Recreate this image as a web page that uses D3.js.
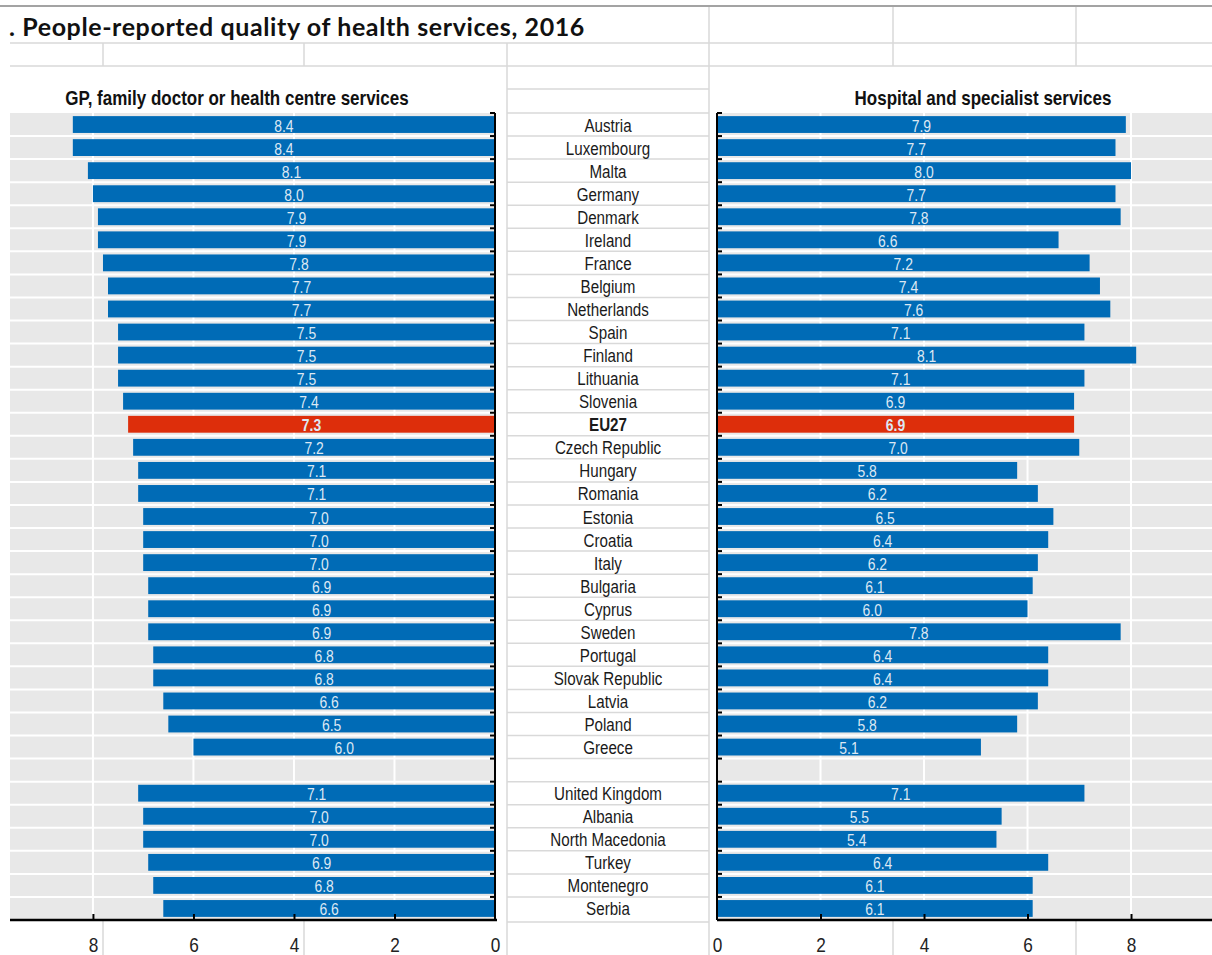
<!DOCTYPE html>
<html>
<head>
<meta charset="utf-8">
<script src="https://cdn.jsdelivr.net/npm/d3@7"></script>
<style>
  body { margin: 0; background: #ffffff; }
  svg { display: block; }
</style>
</head>
<body>
<svg id="chart" width="1212" height="955"></svg>
<script>
// Country rows, top to bottom; the empty entry is the gap before non-EU countries
const countries = [
  "Austria", "Luxembourg", "Malta", "Germany", "Denmark", "Ireland", "France",
  "Belgium", "Netherlands", "Spain", "Finland", "Lithuania", "Slovenia", "EU27",
  "Czech Republic", "Hungary", "Romania", "Estonia", "Croatia", "Italy",
  "Bulgaria", "Cyprus", "Sweden", "Portugal", "Slovak Republic", "Latvia",
  "Poland", "Greece", "",
  "United Kingdom", "Albania", "North Macedonia", "Turkey", "Montenegro", "Serbia"
];

// GP, family doctor or health centre services (score out of 10)
const gpScores = [
  8.4, 8.4, 8.1, 8.0, 7.9, 7.9, 7.8, 7.7, 7.7, 7.5, 7.5, 7.5, 7.4, 7.3,
  7.2, 7.1, 7.1, 7.0, 7.0, 7.0, 6.9, 6.9, 6.9, 6.8, 6.8, 6.6, 6.5, 6.0, null,
  7.1, 7.0, 7.0, 6.9, 6.8, 6.6
];

// Hospital and specialist services (score out of 10)
const hospitalScores = [
  7.9, 7.7, 8.0, 7.7, 7.8, 6.6, 7.2, 7.4, 7.6, 7.1, 8.1, 7.1, 6.9, 6.9,
  7.0, 5.8, 6.2, 6.5, 6.4, 6.2, 6.1, 6.0, 7.8, 6.4, 6.4, 6.2, 5.8, 5.1, null,
  7.1, 5.5, 5.4, 6.4, 6.1, 6.1
];

const axisTicks = [0, 2, 4, 6, 8];
const titleText = ". People-reported quality of health services, 2016";
const gpHeading = "GP, family doctor or health centre services";
const hospitalHeading = "Hospital and specialist services";
const highlightCountry = "EU27";

// ---- styling ----
// Condensed look: Liberation Sans squeezed horizontally
const sans = "'Liberation Sans', Arial, sans-serif";
const squeeze = 0.82;
const barBlue = "#006bb6";
const barRed = "#dd2e0b";
const plotGrey = "#e8e8e8";
const cellLine = "#d9d9d9";
const labelColor = "#dce8f4";

const svg = d3.select("#chart");

const plotTop = 113, plotBottom = 920;
const leftPlot = { x0: 10, x1: 495 };
const rightPlot = { x0: 717, x1: 1212 };
const centreCol = { x0: 507, x1: 709 };

const rows = d3.range(countries.length);
const y = d3.scaleBand().domain(rows).range([plotTop, plotBottom]).paddingInner(0.27).paddingOuter(0.135);
const yEdge = d3.scaleBand().domain(rows).range([plotTop, plotBottom]);

const xLeft = d3.scaleLinear().domain([0, 9.65]).range([leftPlot.x1, leftPlot.x0]);
const xRight = d3.scaleLinear().domain([0, 9.565]).range([rightPlot.x0, rightPlot.x1]);

// narrow text placed at (x, y), squeezed around its anchor
function narrowText(parent, x, y, str, size, weight, fill, sx) {
  return parent.append("g")
    .attr("transform", `translate(${x},${y}) scale(${sx || squeeze},1)`)
    .append("text")
    .attr("text-anchor", "middle")
    .attr("font-family", sans).attr("font-size", size)
    .attr("font-weight", weight).attr("fill", fill)
    .text(str);
}

// ---- spreadsheet cell lines behind the charts ----
const sheet = svg.append("g").attr("stroke", cellLine).attr("stroke-width", 1.5);
[43, 66].forEach(v => sheet.append("line").attr("x1", 10).attr("x2", 1212).attr("y1", v).attr("y2", v));
sheet.append("line").attr("x1", centreCol.x0).attr("x2", centreCol.x1).attr("y1", 89).attr("y2", 89);
rows.concat([countries.length]).forEach(i => {
  const v = i < countries.length ? yEdge(i) : plotBottom + 2;
  sheet.append("line").attr("x1", centreCol.x0).attr("x2", centreCol.x1).attr("y1", v).attr("y2", v);
});
[103, 304].forEach(v => {
  sheet.append("line").attr("x1", v).attr("x2", v).attr("y1", 43).attr("y2", 66);
  sheet.append("line").attr("x1", v).attr("x2", v).attr("y1", plotBottom).attr("y2", 955);
});
[893, 1076].forEach(v => {
  sheet.append("line").attr("x1", v).attr("x2", v).attr("y1", 6).attr("y2", 66);
  sheet.append("line").attr("x1", v).attr("x2", v).attr("y1", plotBottom).attr("y2", 955);
});
sheet.append("line").attr("x1", centreCol.x0).attr("x2", centreCol.x0).attr("y1", 43).attr("y2", 955);
sheet.append("line").attr("x1", centreCol.x1).attr("x2", centreCol.x1).attr("y1", 6).attr("y2", 955);
svg.append("line").attr("x1", 0).attr("x2", 1212).attr("y1", 6).attr("y2", 6)
  .attr("stroke", "#a3a3a3").attr("stroke-width", 2);

// ---- title ----
svg.append("text")
  .attr("x", 9).attr("y", 36)
  .attr("font-family", "Lato, 'Open Sans', sans-serif")
  .attr("font-weight", 700).attr("font-size", 25)
  .attr("letter-spacing", 0.6).attr("fill", "#111")
  .text(titleText);

// ---- one horizontal bar panel ----
function drawPanel(values, x, bounds, mirrored, heading, headingX) {
  const g = svg.append("g");

  g.append("rect")
    .attr("x", bounds.x0).attr("y", plotTop)
    .attr("width", bounds.x1 - bounds.x0).attr("height", plotBottom - plotTop)
    .attr("fill", plotGrey);

  // white grid: row separators and value gridlines
  g.selectAll("line.row-grid").data(rows.slice(1)).join("line")
    .attr("x1", bounds.x0).attr("x2", bounds.x1)
    .attr("y1", d => yEdge(d)).attr("y2", d => yEdge(d))
    .attr("stroke", "#fff").attr("stroke-width", 2);
  g.selectAll("line.val-grid").data(axisTicks.slice(1)).join("line")
    .attr("x1", d => x(d)).attr("x2", d => x(d))
    .attr("y1", plotTop).attr("y2", plotBottom)
    .attr("stroke", "#fff").attr("stroke-width", 2);

  const data = rows.filter(i => values[i] != null)
    .map(i => ({ i, v: values[i], name: countries[i] }));

  g.selectAll("rect.bar").data(data).join("rect")
    .attr("x", d => Math.min(x(0), x(d.v)))
    .attr("width", d => Math.abs(x(d.v) - x(0)))
    .attr("y", d => y(d.i)).attr("height", y.bandwidth())
    .attr("fill", d => d.name === highlightCountry ? barRed : barBlue);

  data.forEach(d => {
    narrowText(g, (x(0) + x(d.v)) / 2, y(d.i) + y.bandwidth() / 2 + 1, d3.format(".1f")(d.v),
      17, d.name === highlightCountry ? 700 : 400, labelColor)
      .attr("dominant-baseline", "central");
  });

  // category axis along the zero line
  const zeroX = x(0);
  const catAxis = g.append("g").attr("stroke", "#000");
  catAxis.append("line").attr("x1", zeroX).attr("x2", zeroX)
    .attr("y1", plotTop).attr("y2", plotBottom).attr("stroke-width", 2);
  const dir = mirrored ? -1 : 1;
  catAxis.selectAll("line.tick").data(rows).join("line")
    .attr("x1", zeroX).attr("x2", zeroX + dir * 5)
    .attr("y1", d => yEdge(d)).attr("y2", d => yEdge(d))
    .attr("stroke-width", 2);

  // value axis
  const axis = d3.axisBottom(x).tickValues(axisTicks).tickSize(-6).tickPadding(17)
    .tickFormat(d3.format("d"));
  const ax = g.append("g").attr("transform", `translate(0,${plotBottom})`).call(axis);
  ax.select(".domain").remove();
  ax.append("line").attr("x1", bounds.x0).attr("x2", mirrored ? zeroX + 2 : bounds.x1)
    .attr("stroke", "#000").attr("stroke-width", 2.5);
  ax.selectAll(".tick line").attr("stroke", "#000").attr("stroke-width", 2);
  ax.selectAll(".tick").filter(d => d === 0).select("line").remove();
  ax.selectAll(".tick text")
    .attr("font-family", sans).attr("font-size", 21).attr("fill", "#222")
    .attr("transform", `scale(${squeeze},1)`);

  narrowText(svg, headingX, 105, heading, 20, 700, "#111", 0.85);
}

drawPanel(gpScores, xLeft, leftPlot, true, gpHeading, 237);
drawPanel(hospitalScores, xRight, rightPlot, false, hospitalHeading, 983);

// ---- country names in the centre column ----
const names = svg.append("g");
rows.filter(i => countries[i] !== "").forEach(i => {
  narrowText(names, (centreCol.x0 + centreCol.x1) / 2, yEdge(i) + yEdge.bandwidth() / 2 + 1,
    countries[i], 18.5, countries[i] === highlightCountry ? 700 : 400, "#1a1a1a")
    .attr("dominant-baseline", "central");
});
</script>
</body>
</html>
